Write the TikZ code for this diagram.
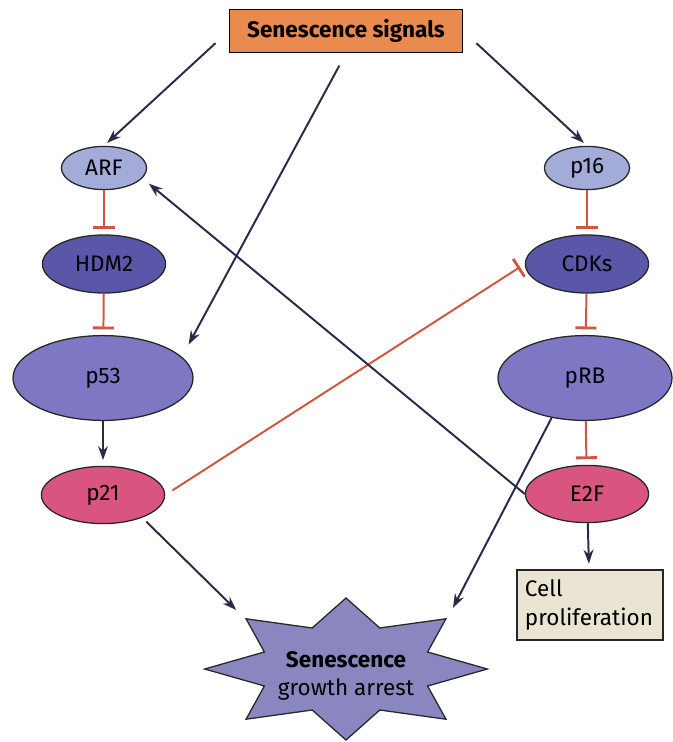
\documentclass[tikz,border=0pt]{standalone}
\usepackage{fontspec}
\setmainfont{Fira Sans}
\usetikzlibrary{arrows.meta,shapes.geometric}
\definecolor{signalorange}{HTML}{E98A4F}
\definecolor{palemol}{HTML}{A3ABD8}
\definecolor{darkmol}{HTML}{5B57A8}
\definecolor{midmol}{HTML}{7D77C4}
\definecolor{pinkmol}{HTML}{D9557F}
\definecolor{starfill}{HTML}{8A86C0}
\definecolor{cellfill}{HTML}{E9E5D2}
\definecolor{actblue}{HTML}{2C2A48}
\definecolor{inhred}{HTML}{D0573F}
\tikzset{
  mol/.style={ellipse, draw=black!85, line width=0.9pt, inner sep=1pt},
  act/.style={draw=actblue, line width=1.4pt, -{Stealth[length=10pt,width=7pt]}},
  inh/.style={draw=inhred, line width=1.4pt, -{Bar[width=15pt,line width=2pt]}, shorten >=4pt},
}

\begin{document}
\begin{tikzpicture}[x=0.025cm, y=-0.025cm, font=\fontsize{16}{20}\selectfont]
		%%%%% START %%%%%
		\useasboundingbox (0,0) rectangle (672,742);
		
		\node[draw, fill=signalorange, line width=0.9pt, minimum width=5.83cm, minimum height=1.08cm, font=\fontsize{16}{20}\selectfont\bfseries] (signals) at (346,31) {Senescence signals};
		
		% p53 side
		\node[mol, fill=palemol, minimum width=2.13cm, minimum height=1.08cm] (ARF) at (104,168) {ARF};
		\node[mol, fill=darkmol, minimum width=3.08cm, minimum height=1.45cm] (HDM2) at (104,264) {HDM2};
		\node[mol, fill=midmol, minimum width=4.5cm, minimum height=2.12cm] (p53) at (103,378) {p53};
		\node[mol, fill=pinkmol, minimum width=3.08cm, minimum height=1.43cm] (p21) at (103,495) {p21};
		
		% pRB side
		\node[mol, fill=palemol, minimum width=2.13cm, minimum height=1.08cm] (p16) at (587,168) {p16};
		\node[mol, fill=darkmol, minimum width=3.08cm, minimum height=1.45cm] (CDKs) at (587,264) {CDKs};
		\node[mol, fill=midmol, minimum width=4.35cm, minimum height=2.12cm] (pRB) at (585,378) {pRB};
		\node[mol, fill=pinkmol, minimum width=3.08cm, minimum height=1.43cm] (E2F) at (587,494) {E2F};
		
		\node[draw=black!85, fill=cellfill, line width=0.9pt, align=left, text width=3.25cm, inner xsep=0.2cm, minimum height=1.75cm] (cell) at (590,605) {Cell\\proliferation};
		
		\begin{scope}[shift={(346,669)}]
			\node[star, star points=8, star point ratio=1.6, minimum size=3.55cm, inner sep=0pt, draw=black!85, fill=starfill, line width=0.9pt, xscale=1.99, transform shape] (arrest) at (0,0) {};
		\end{scope}
		\node[align=center, font=\fontsize{16}{20}\selectfont] (arrestlbl) at (346,676) {\textbf{Senescence}\\growth arrest};
		
		% signals
		\draw[act, shorten <=0.45cm, shorten >=3pt] (signals.west) -- (ARF.north);
		\draw[act, shorten <=0.45cm, shorten >=3pt] (signals.east) -- (p16.north);
		\draw[act, shorten <=0.35cm, shorten >=0.35cm] (signals.south) -- (p53.15);
		
		% inhibitions
		\draw[inh] (ARF) -- (HDM2);
		\draw[inh] (HDM2) -- (p53);
		\draw[inh] (p16) -- (CDKs);
		\draw[inh] (CDKs) -- (pRB);
		\draw[inh] (pRB) -- (E2F);
		\draw[inh, shorten <=6pt] (p21.east) -- (CDKs.west);
		
		% activations
		\draw[act, shorten >=4pt] (p53) -- (p21);
		\draw[act, shorten >=4pt] (E2F) -- (cell);
		\draw[act, shorten >=6pt] (E2F.west) -- (ARF.-15);
		\draw[act, shorten <=4pt, shorten >=8pt] (p21.-30) -- (arrest.135);
		\draw[act, shorten >=8pt] (pRB.-130) -- (arrest.45);
		%%%%% END %%%%%
	\end{tikzpicture}
\end{document}
